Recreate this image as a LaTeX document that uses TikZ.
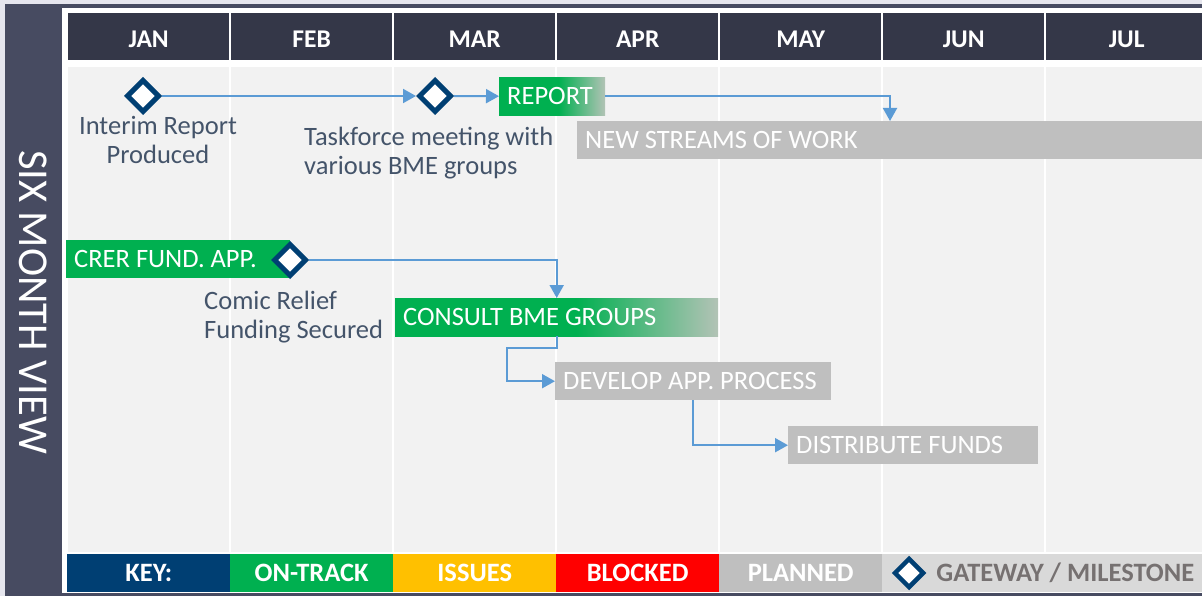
\documentclass[tikz,border=0pt]{standalone}
\usepackage{fontspec}
\setmainfont{Carlito}
\usetikzlibrary{arrows.meta,shapes.geometric}

\definecolor{lavender}{HTML}{E6E6EE}
\definecolor{slate}{HTML}{474B61}
\definecolor{headdark}{HTML}{343748}
\definecolor{panel}{HTML}{F2F2F2}
\definecolor{ontrack}{HTML}{00B050}
\definecolor{issues}{HTML}{FFC000}
\definecolor{blocked}{HTML}{FF0000}
\definecolor{planned}{HTML}{BFBFBF}
\definecolor{keyblue}{HTML}{003F73}
\definecolor{gatewaybg}{HTML}{D9D9D9}
\definecolor{gatewaytxt}{HTML}{767171}
\definecolor{linkblue}{HTML}{5B9BD5}
\definecolor{notetxt}{HTML}{44546A}
\definecolor{fadegray}{HTML}{B3C3B6}

%green bar fading out towards its right end
\pgfdeclarehorizontalshading{greenfade}{100bp}{color(0bp)=(ontrack); color(53bp)=(ontrack); color(75bp)=(fadegray); color(100bp)=(fadegray)}

\tikzset{
  monthhead/.style={rectangle, anchor=north west, fill=headdark, minimum width=161pt, minimum height=47pt, inner sep=0pt, text height=21pt, text depth=0pt, text=white, font=\bfseries\fontsize{25.5}{28}\selectfont},
  keycell/.style={rectangle, anchor=north west, minimum width=163pt, minimum height=38pt, inner sep=0pt, text=white, font=\bfseries\fontsize{26.5}{28}\selectfont},
  taskbar/.style={rectangle, anchor=north west, inner sep=0pt, inner xsep=8pt, minimum height=38pt, text width=#1, align=flush left, text=white, font=\fontsize{26.5}{29}\selectfont},
  ontrackbar/.style={taskbar=#1, fill=ontrack},
  fadebar/.style={taskbar=#1, shade, shading=greenfade},
  plannedbar/.style={taskbar=#1, fill=planned},
  milestone/.style={diamond, draw=keyblue, fill=white, line width=5pt, minimum width=33pt, minimum height=33pt, inner sep=0pt},
  note/.style={text=notetxt, inner sep=0pt, font=\fontsize{26.5}{29}\selectfont},
  link/.style={draw=linkblue, line width=2pt, -{Triangle[length=13pt,width=14pt]}}
}

\begin{document}
\begin{tikzpicture}[x=1pt, y=-1pt]

\useasboundingbox (0,0) rectangle (1202,596);

%frame
\fill[lavender] (0,0) rectangle (1202,596);
\fill[slate] (5,4) rectangle (1202,8);
\fill[slate] (5,4) rectangle (62,596);
\fill[white] (62,8) rectangle (1202,593);
\fill[slate] (62,593) rectangle (1202,596);

\node[rotate=-90, text=white, font=\fontsize{42.5}{46}\selectfont] (side) at (33,302) {SIX MONTH VIEW};

%month columns
\foreach \m [count=\i from 0] in {JAN,FEB,MAR,APR,MAY,JUN,JUL}{
  \node[monthhead] (head\i) at ({68+163*\i},13) {\m};
  \fill[panel] ({68+163*\i},67) rectangle ++(161,485);
}

%key
\foreach \txt/\col [count=\i from 0] in {KEY:/keyblue, ON-TRACK/ontrack, ISSUES/issues, BLOCKED/blocked, PLANNED/planned}{
  \node[keycell, fill=\col] (key\i) at ({67+163*\i},554) {\txt};
}
\node[keycell, fill=gatewaybg, text=gatewaytxt, inner xsep=8pt, text width=304pt, align=flush right] (keyGate) at (882,554) {GATEWAY / MILESTONE};
\node[milestone, minimum width=30pt, minimum height=30pt, line width=4.5pt] (keyMs) at (909,573) {};

%first stream
\node[milestone] (ms1) at (143,96) {};
\node[milestone] (ms2) at (435,96) {};
\node[fadebar=90pt] (report) at (499,77) {REPORT};
\node[plannedbar=614pt] (streams) at (577,121) {NEW STREAMS OF WORK};
\coordinate (streamsIn) at (890,121);

\node[note, align=center] (noteInterim) at (158,140) {Interim Report\\Produced};
\node[note, align=left, anchor=west] (noteTask) at (304,153) {Taskforce meeting with\\various BME groups};

\draw[link] (ms1.east) -- (ms2.west);
\draw[link] (ms2.east) -- (report.west);
\draw[link] (report.east) -| (streamsIn);

%second stream
\node[ontrackbar=208pt] (crer) at (66,240) {CRER FUND. APP.};
\node[milestone] (ms3) at (290,260) {};
\node[fadebar=307pt] (consult) at (395,298) {CONSULT BME GROUPS};
\node[plannedbar=260pt] (develop) at (555,362) {DEVELOP APP. PROCESS};
\node[plannedbar=234pt] (distribute) at (788,426) {DISTRIBUTE FUNDS};

\node[note, align=left, anchor=west] (noteComic) at (204,317) {Comic Relief\\Funding Secured};

\draw[link] (ms3.east) -| (consult.north);
\draw[link] (consult.south) -- ++(0,12) -| ([xshift=-48pt]develop.west) -- (develop.west);
\draw[link] (develop.south) |- (distribute.west);

\end{tikzpicture}
\end{document}
